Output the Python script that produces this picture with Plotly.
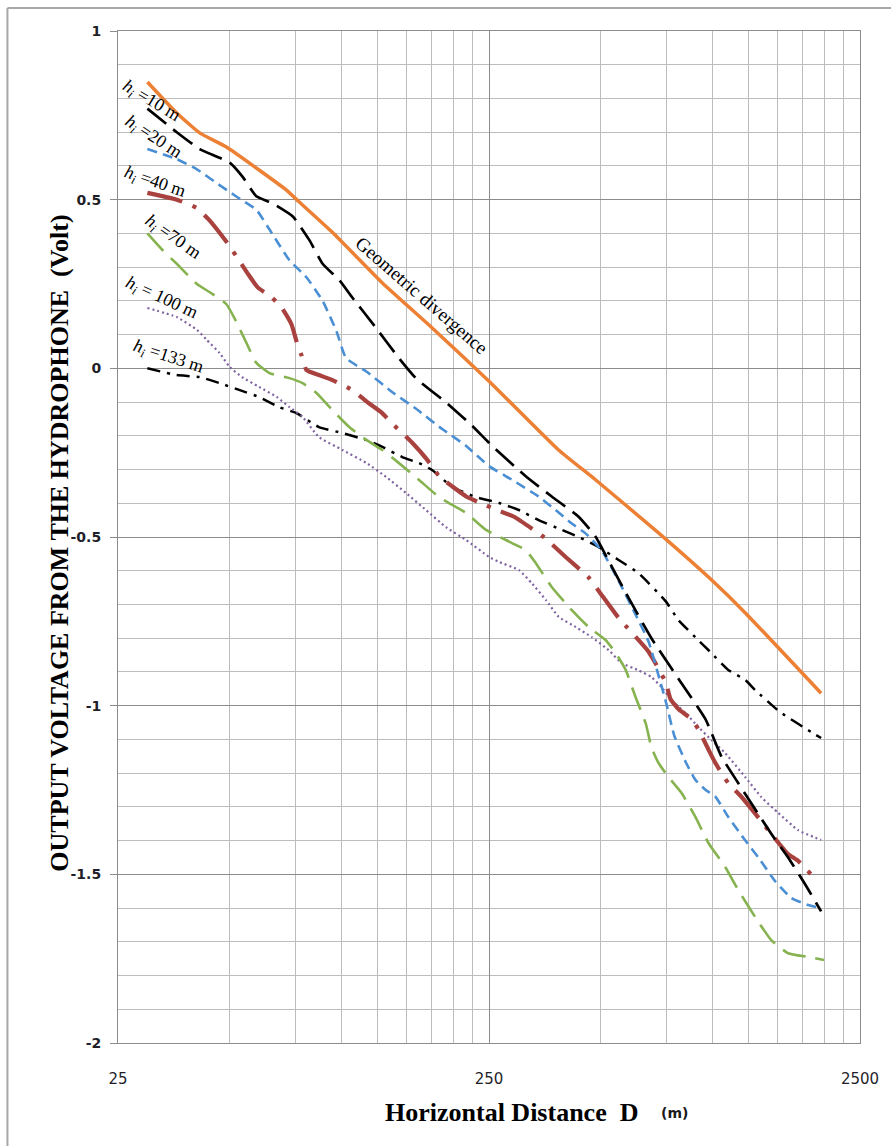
import math
import plotly.graph_objects as go

# ---------------- data ----------------
geo_d = [30, 36, 41.5, 49, 60, 71, 77, 95, 129, 176, 250, 385, 485, 716, 994, 1227, 1964]
geo_v = [0.849, 0.757, 0.698, 0.656, 0.588, 0.529, 0.493, 0.401, 0.253, 0.119, -0.038, -0.242, -0.331, -0.488, -0.627, -0.725, -0.963]

h10_d = [30, 36, 41.5, 50, 54, 59, 65, 74, 82, 89, 99, 107, 124, 143, 159, 191, 225, 255, 314, 369, 436, 485, 525, 594, 685, 810, 958, 1057, 1175, 1441, 1600, 1780, 1964]
h10_v = [0.77, 0.70, 0.65, 0.61, 0.57, 0.51, 0.49, 0.45, 0.38, 0.31, 0.26, 0.21, 0.12, 0.03, -0.03, -0.10, -0.17, -0.23, -0.32, -0.38, -0.44, -0.50, -0.57, -0.68, -0.80, -0.92, -1.04, -1.15, -1.23, -1.38, -1.45, -1.53, -1.61]

h20_d = [30, 36, 40.8, 46, 52, 59, 65, 72.5, 80.5, 89, 97, 103, 117, 137, 159, 187, 217, 250, 288, 340, 378, 418, 456, 503, 559, 621, 673, 720, 750, 790, 850, 900, 960, 1019, 1104, 1227, 1330, 1476, 1632, 1800, 1964]
h20_v = [0.65, 0.62, 0.59, 0.55, 0.51, 0.47, 0.40, 0.32, 0.27, 0.20, 0.11, 0.03, -0.01, -0.07, -0.12, -0.18, -0.23, -0.29, -0.33, -0.38, -0.42, -0.46, -0.49, -0.54, -0.63, -0.73, -0.81, -0.92, -0.99, -1.09, -1.17, -1.22, -1.25, -1.27, -1.33, -1.40, -1.45, -1.52, -1.57, -1.59, -1.60]

h40_d = [30, 36, 40.8, 44, 49.4, 53, 56, 59.5, 65, 69, 73.4, 75.7, 78, 80.5, 87, 94.6, 107, 117.5, 128, 139, 155, 170, 183.5, 199, 217, 238, 262.6, 292, 351, 403, 464, 494, 559, 673, 748, 771, 810, 878, 917, 976, 1019, 1104, 1197, 1305, 1441, 1600, 1703, 1845]
h40_v = [0.52, 0.50, 0.475, 0.44, 0.37, 0.32, 0.28, 0.24, 0.21, 0.18, 0.13, 0.08, 0.04, -0.005, -0.02, -0.035, -0.064, -0.10, -0.13, -0.17, -0.22, -0.27, -0.32, -0.35, -0.38, -0.40, -0.42, -0.44, -0.50, -0.56, -0.62, -0.66, -0.74, -0.84, -0.93, -0.98, -1.01, -1.04, -1.07, -1.13, -1.17, -1.23, -1.27, -1.32, -1.38, -1.44, -1.46, -1.50]

h70_d = [30, 33, 36, 40.8, 45, 49, 52, 55.5, 59, 64, 72.5, 78.6, 85.7, 94.6, 105, 117, 129, 143, 162, 183.5, 217, 245.5, 277.6, 314, 334, 369, 418, 464, 516, 549, 584, 621, 661, 685, 716, 762, 826, 900, 976, 1084, 1175, 1305, 1441, 1600, 1812, 2000]
h70_v = [0.40, 0.35, 0.31, 0.25, 0.22, 0.19, 0.14, 0.075, 0.016, -0.014, -0.029, -0.044, -0.073, -0.124, -0.174, -0.213, -0.242, -0.281, -0.331, -0.382, -0.429, -0.479, -0.509, -0.539, -0.577, -0.648, -0.717, -0.767, -0.806, -0.844, -0.894, -0.975, -1.052, -1.123, -1.170, -1.212, -1.259, -1.330, -1.407, -1.479, -1.547, -1.627, -1.695, -1.734, -1.745, -1.754]

h100_d = [30, 36, 40.8, 43.4, 47, 50, 54, 60, 67, 72.5, 78.6, 87, 100.7, 117, 132, 149.5, 169, 191.5, 217, 250, 266, 301, 326, 356, 385.5, 428.5, 473, 525, 569.5, 632, 685, 729, 776, 846, 917, 994, 1084, 1227, 1355, 1505, 1703, 1964]
h100_v = [0.179, 0.152, 0.114, 0.084, 0.045, 0.004, -0.026, -0.055, -0.085, -0.115, -0.144, -0.204, -0.242, -0.281, -0.322, -0.370, -0.420, -0.471, -0.509, -0.559, -0.574, -0.598, -0.637, -0.687, -0.737, -0.767, -0.797, -0.835, -0.874, -0.895, -0.915, -0.945, -0.983, -1.022, -1.063, -1.102, -1.141, -1.212, -1.271, -1.318, -1.369, -1.398]

h133_d = [30, 36, 41.5, 47, 53, 60, 68, 75.7, 87, 100.7, 117, 129, 146, 162, 176, 199, 231, 266, 301, 340, 393, 436, 494, 559, 632, 748, 810, 917, 994, 1104, 1227, 1305, 1523, 1845, 1964]
h133_v = [0.00, -0.02, -0.026, -0.044, -0.064, -0.085, -0.115, -0.133, -0.174, -0.192, -0.213, -0.233, -0.263, -0.281, -0.302, -0.352, -0.382, -0.399, -0.420, -0.450, -0.479, -0.500, -0.530, -0.568, -0.607, -0.69, -0.746, -0.806, -0.844, -0.894, -0.924, -0.954, -1.019, -1.078, -1.096]

# axis ticks
x_ticks = [25, 250, 2500]
x_ticktext = ["25", "250", "2500"]
x_minor = [25 * k for k in range(1, 11)] + [250 * k for k in range(1, 11)]
y_ticks = [1, 0.5, 0, -0.5, -1, -1.5, -2]
y_ticktext = ["1", "0.5", "0", "-0.5", "-1", "-1.5", "-2"]

# curve labels
label_text = ["<i>h</i><sub><i>i</i></sub> =10 m", "<i>h</i><sub><i>i</i></sub> =20 m",
              "<i>h</i><sub><i>i</i></sub> =40 m", "<i>h</i><sub><i>i</i></sub> =70 m",
              "<i>h</i><sub><i>i</i></sub> = 100 m", "<i>h</i><sub><i>i</i></sub> =133 m",
              "Geometric divergence"]
label_d = [30.7, 31.05, 31.4, 35.1, 32.8, 34.3, 165]
label_v = [0.79, 0.683, 0.552, 0.389, 0.208, 0.033, 0.217]
label_angle = [31, 33, 19, 35, 25, 18, 41]

# ---------------- figure ----------------
series = [
    (h133_d, h133_v, "black", 2.5, "13px,7px,3px,7px"),
    (h100_d, h100_v, "#8064A2", 2.2, "2px,3px"),
    (h70_d, h70_v, "#86B350", 2.6, "24px,10px"),
    (h40_d, h40_v, "#A9423E", 4.2, "36px,11px,4px,11px"),
    (h20_d, h20_v, "#4A8FD4", 2.6, "10px,6px"),
    (h10_d, h10_v, "black", 2.7, "24px,9px"),
    (geo_d, geo_v, "#EC8136", 3.5, "solid"),
]

fig = go.Figure()
for d, v, c, w, dash in series:
    fig.add_trace(go.Scatter(x=d, y=v, mode="lines",
                             line=dict(color=c, width=w, dash=dash, shape="spline", smoothing=0.45),
                             showlegend=False, hoverinfo="skip"))

for t, d, v, a in zip(label_text, label_d, label_v, label_angle):
    fig.add_annotation(x=math.log10(d), y=v, xref="x", yref="y", text=t, textangle=a,
                       showarrow=False,
                       font=dict(family="Liberation Serif", size=19 if t.startswith("G") else 18, color="black"))

fig.add_annotation(x=-0.101, y=0.494, xref="paper", yref="paper",
                   text="<b>OUTPUT VOLTAGE FROM THE HYDROPHONE  (Volt)</b>", textangle=-90,
                   showarrow=False, font=dict(family="Liberation Serif", size=26, color="black"))
fig.add_annotation(x=0.53, y=-0.085, xref="paper", yref="paper",
                   text="<b>Horizontal Distance  D</b>", showarrow=False,
                   font=dict(family="Liberation Serif", size=26, color="black"))
fig.add_annotation(x=0.7715, y=-0.079, xref="paper", yref="paper",
                   text="<b>(m)</b>", showarrow=False,
                   font=dict(family="DejaVu Sans", size=14, color="#1a1a1a"))

# image frame
fig.add_shape(type="line", xref="paper", yref="paper", x0=-0.149, x1=1.05, y0=1.0227, y1=1.0227,
              line=dict(color="#a8a8a8", width=2))
fig.add_shape(type="line", xref="paper", yref="paper", x0=-0.149, x1=-0.149, y0=1.0227, y1=-0.11,
              line=dict(color="#a8a8a8", width=2))

grid_major = "#8c8c8c"
grid_minor = "#bdbdbd"
fig.update_layout(
    width=891, height=1146,
    margin=dict(l=118, r=29, t=31, b=103),
    paper_bgcolor="white", plot_bgcolor="white",
    xaxis=dict(type="log", range=[math.log10(25), math.log10(2500)],
               tickmode="array", tickvals=x_ticks, ticktext=x_ticktext,
               showgrid=True, gridcolor=grid_major, gridwidth=1,
               showline=True, linecolor=grid_major, linewidth=1, mirror=True,
               ticks="", ticklabelstandoff=22, zeroline=False,
               tickfont=dict(family="DejaVu Sans", size=15, color="#1f1f2a"),
               minor=dict(tickmode="array", tickvals=x_minor, showgrid=True,
                          gridcolor=grid_minor, gridwidth=1.2, ticks="")),
    yaxis=dict(range=[-2, 1], tickmode="array", tickvals=y_ticks, ticktext=y_ticktext,
               showgrid=True, gridcolor=grid_major, gridwidth=1.2,
               showline=True, linecolor=grid_major, linewidth=1, mirror=True,
               ticks="outside", ticklen=7, tickcolor=grid_major, ticklabelstandoff=6,
               zeroline=False,
               tickfont=dict(family="DejaVu Sans", size=14, color="#1f1f2a", weight="bold"),
               minor=dict(dtick=0.1, tick0=0, showgrid=True, gridcolor=grid_minor,
                          gridwidth=1.2, ticks="")),
)

fig.write_html("out.html", config={"displayModeBar": False},
               post_script="document.body.style.margin='0';document.body.style.overflow='hidden';")
